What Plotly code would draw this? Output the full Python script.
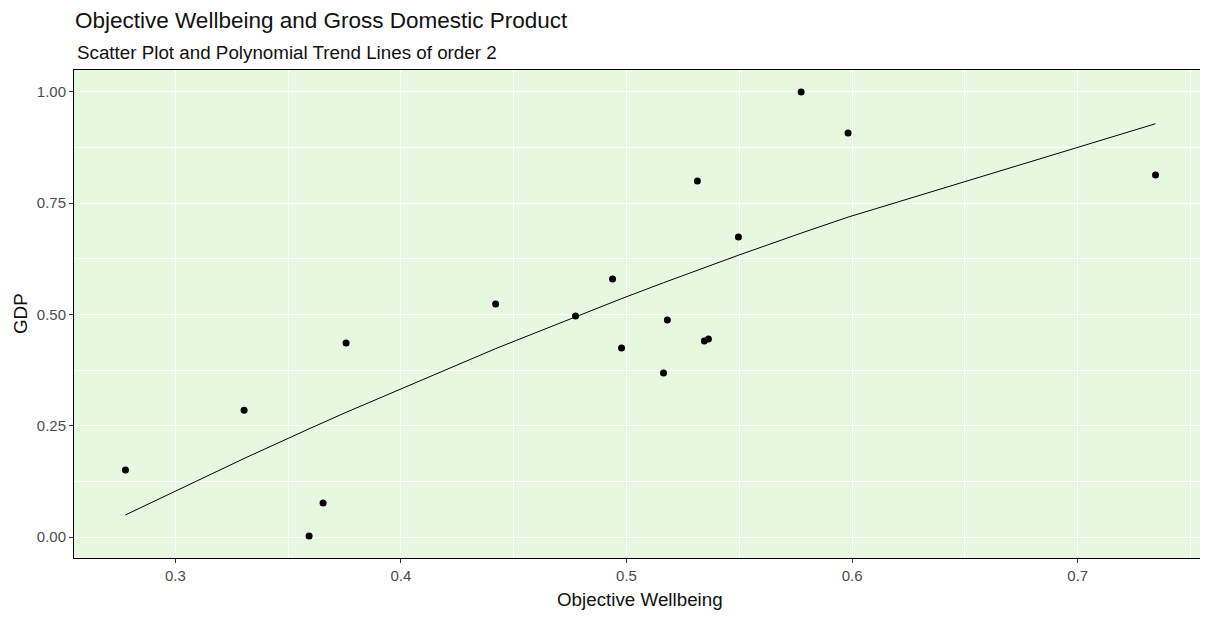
import numpy as np
import plotly.graph_objects as go

# Data
objective_wellbeing = [0.2779, 0.3305, 0.3593, 0.3655, 0.3757, 0.4420, 0.4774, 0.4938, 0.4978,
                       0.5164, 0.5181, 0.5314, 0.5345, 0.5363, 0.5496, 0.5774, 0.5982, 0.7345]
gdp = [0.1506, 0.2850, 0.0020, 0.0764, 0.4360, 0.5236, 0.4966, 0.5800, 0.4247,
       0.3685, 0.4876, 0.8000, 0.4404, 0.4450, 0.6740, 1.0000, 0.9080, 0.8135]

x_ticks = [0.3, 0.4, 0.5, 0.6, 0.7]
y_ticks = [0.0, 0.25, 0.5, 0.75, 1.0]

# Polynomial (order 2) trend line through the fitted values
xs = np.array(objective_wellbeing)
ys = np.array(gdp)
coef = np.polyfit(xs, ys, 2)
order = np.argsort(xs)
x_fit = xs[order]
y_fit = np.polyval(coef, x_fit)

# The page body has an 8px default margin; compensate so the panel lands at
# pixel 74..1207 (x) and 70..558 (y) in the 1208x617 window.
OFF = 8
W, H = 1208 - OFF, 617 - OFF
L, R, T, B = 74 - OFF, 1, 70 - OFF, 59
PW, PH = W - L - R, H - T - B

fig = go.Figure()
fig.add_trace(go.Scatter(x=x_fit, y=y_fit, mode="lines",
                         line=dict(color="black", width=1), hoverinfo="skip", showlegend=False))
fig.add_trace(go.Scatter(x=objective_wellbeing, y=gdp, mode="markers",
                         marker=dict(color="black", size=7), showlegend=False))

font_family = "Liberation Sans, Arial, sans-serif"
fig.update_layout(
    width=W, height=H,
    margin=dict(l=L, r=R, t=T, b=B),
    paper_bgcolor="white",
    plot_bgcolor="#E6F8E0",
    font=dict(family=font_family, color="#222222"),
    title=dict(text="Objective Wellbeing and Gross Domestic Product",
               x=(75 - OFF) / W, xanchor="left", xref="container",
               y=1 - (20 - OFF) / H, yanchor="middle", yref="container",
               font=dict(size=22.5, color="#111111")),
    annotations=[
        dict(text="Scatter Plot and Polynomial Trend Lines of order 2",
             x=1 / PW, xanchor="left", xref="paper",
             y=1 + (70 - 52) / PH, yanchor="middle", yref="paper",
             showarrow=False, font=dict(size=18.8, color="#111111")),
        dict(text="Objective Wellbeing",
             x=(640 - 74) / PW, xanchor="center", xref="paper",
             y=-(599 - 558) / PH, yanchor="middle", yref="paper",
             showarrow=False, font=dict(size=18.8, color="#111111")),
        dict(text="GDP", textangle=-90,
             x=-(74 - 20) / PW, xanchor="center", xref="paper",
             y=(558 - 314) / PH, yanchor="middle", yref="paper",
             showarrow=False, font=dict(size=18.8, color="#111111")),
    ],
)

axis_common = dict(
    showline=True, linecolor="black", linewidth=1, mirror=True,
    showgrid=True, gridcolor="white", gridwidth=1.4,
    zeroline=False, automargin=False,
    ticks="outside", ticklen=4, tickcolor="#333333", tickwidth=1,
    tickfont=dict(size=15, color="#4D4D4D", family=font_family),
)

fig.update_xaxes(
    **axis_common,
    range=[0.2551, 0.7573],
    tickvals=x_ticks, ticktext=[f"{v:.1f}" for v in x_ticks],
    minor=dict(showgrid=True, gridcolor="white", gridwidth=0.8, dtick=0.05, tick0=0, ticks=""),
)
fig.update_yaxes(
    **axis_common,
    range=[-0.0472, 1.0494],
    tickvals=y_ticks, ticktext=[f"{v:.2f}" for v in y_ticks],
    minor=dict(showgrid=True, gridcolor="white", gridwidth=0.8, dtick=0.125, tick0=0, ticks=""),
)

fig.write_html("out.html")
